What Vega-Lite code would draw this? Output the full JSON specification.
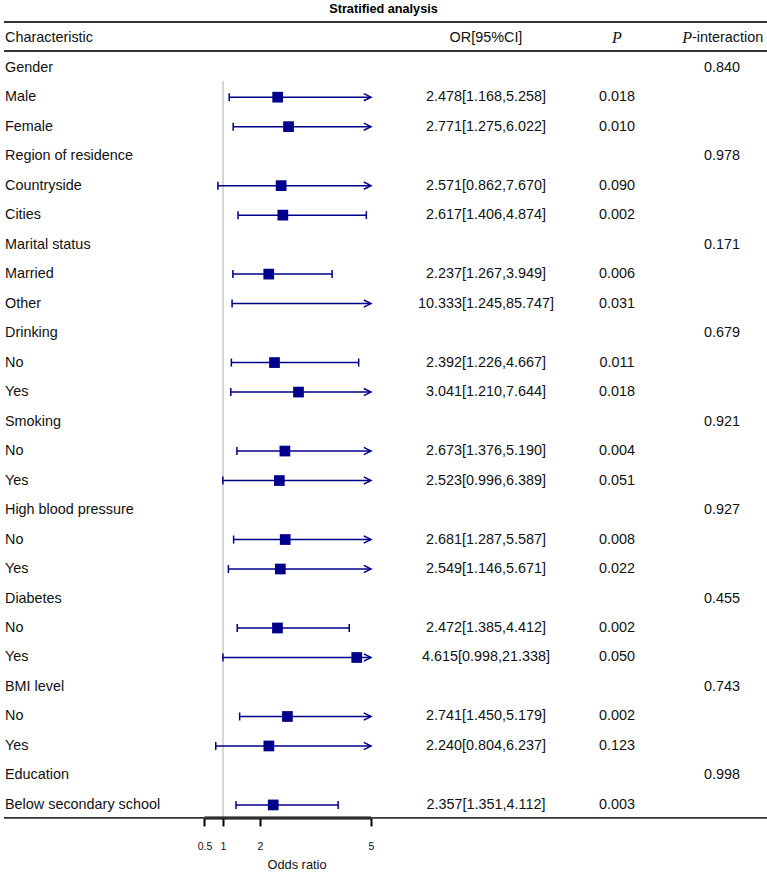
{
  "$schema": "https://vega.github.io/schema/vega-lite/v6.json",
  "width": 763,
  "height": 873,
  "autosize": {"type": "none"},
  "padding": {"left": 4, "right": 0, "top": 0, "bottom": 0},
  "background": "white",
  "config": {"view": {"stroke": null}, "font": "Liberation Sans"},
  "data": {"values": [
    {"row": 1, "label": "Gender", "pint": "0.840"},
    {"row": 2, "label": "Male", "or": 2.478, "lo": 1.168, "hi": 5.258, "ci": "2.478[1.168,5.258]", "p": "0.018"},
    {"row": 3, "label": "Female", "or": 2.771, "lo": 1.275, "hi": 6.022, "ci": "2.771[1.275,6.022]", "p": "0.010"},
    {"row": 4, "label": "Region of residence", "pint": "0.978"},
    {"row": 5, "label": "Countryside", "or": 2.571, "lo": 0.862, "hi": 7.670, "ci": "2.571[0.862,7.670]", "p": "0.090"},
    {"row": 6, "label": "Cities", "or": 2.617, "lo": 1.406, "hi": 4.874, "ci": "2.617[1.406,4.874]", "p": "0.002"},
    {"row": 7, "label": "Marital status", "pint": "0.171"},
    {"row": 8, "label": "Married", "or": 2.237, "lo": 1.267, "hi": 3.949, "ci": "2.237[1.267,3.949]", "p": "0.006"},
    {"row": 9, "label": "Other", "or": 10.333, "lo": 1.245, "hi": 85.747, "ci": "10.333[1.245,85.747]", "p": "0.031"},
    {"row": 10, "label": "Drinking", "pint": "0.679"},
    {"row": 11, "label": "No", "or": 2.392, "lo": 1.226, "hi": 4.667, "ci": "2.392[1.226,4.667]", "p": "0.011"},
    {"row": 12, "label": "Yes", "or": 3.041, "lo": 1.210, "hi": 7.644, "ci": "3.041[1.210,7.644]", "p": "0.018"},
    {"row": 13, "label": "Smoking", "pint": "0.921"},
    {"row": 14, "label": "No", "or": 2.673, "lo": 1.376, "hi": 5.190, "ci": "2.673[1.376,5.190]", "p": "0.004"},
    {"row": 15, "label": "Yes", "or": 2.523, "lo": 0.996, "hi": 6.389, "ci": "2.523[0.996,6.389]", "p": "0.051"},
    {"row": 16, "label": "High blood pressure", "pint": "0.927"},
    {"row": 17, "label": "No", "or": 2.681, "lo": 1.287, "hi": 5.587, "ci": "2.681[1.287,5.587]", "p": "0.008"},
    {"row": 18, "label": "Yes", "or": 2.549, "lo": 1.146, "hi": 5.671, "ci": "2.549[1.146,5.671]", "p": "0.022"},
    {"row": 19, "label": "Diabetes", "pint": "0.455"},
    {"row": 20, "label": "No", "or": 2.472, "lo": 1.385, "hi": 4.412, "ci": "2.472[1.385,4.412]", "p": "0.002"},
    {"row": 21, "label": "Yes", "or": 4.615, "lo": 0.998, "hi": 21.338, "ci": "4.615[0.998,21.338]", "p": "0.050"},
    {"row": 22, "label": "BMI level", "pint": "0.743"},
    {"row": 23, "label": "No", "or": 2.741, "lo": 1.450, "hi": 5.179, "ci": "2.741[1.450,5.179]", "p": "0.002"},
    {"row": 24, "label": "Yes", "or": 2.240, "lo": 0.804, "hi": 6.237, "ci": "2.240[0.804,6.237]", "p": "0.123"},
    {"row": 25, "label": "Education", "pint": "0.998"},
    {"row": 26, "label": "Below secondary school", "or": 2.357, "lo": 1.351, "hi": 4.112, "ci": "2.357[1.351,4.112]", "p": "0.003"}
  ]},
  "layer": [
    {
      "layer": [
        {
          "data": {"values": [{"ref": 1}]},
          "mark": {"type": "rule", "color": "#c8c8c8", "strokeWidth": 1.5},
          "encoding": {"x": {"field": "ref", "type": "quantitative"}, "y": {"datum": 1.45, "type": "quantitative", "scale": {"domain": [-1.295, 28.308], "reverse": true, "nice": false, "zero": false}, "axis": null}, "y2": {"datum": 26.44}}
        },
        {
          "transform": [{"filter": "isValid(datum.or) && datum.hi <= 5"}],
          "mark": {"type": "rule", "color": "#00008B", "strokeWidth": 1.5},
          "encoding": {"x": {"field": "lo", "type": "quantitative"}, "x2": {"field": "hi"}, "y": {"field": "row", "type": "quantitative"}}
        },
        {
          "transform": [{"filter": "isValid(datum.or) && datum.hi > 5"}],
          "mark": {"type": "rule", "color": "#00008B", "strokeWidth": 1.5},
          "encoding": {"x": {"field": "lo", "type": "quantitative"}, "x2": {"datum": 5}, "y": {"field": "row", "type": "quantitative"}}
        },
        {
          "transform": [{"filter": "isValid(datum.or)"}],
          "mark": {"type": "point", "shape": "M 0 -1 L 0 1", "filled": false, "color": "#00008B", "strokeWidth": 1.5, "size": 64, "opacity": 1},
          "encoding": {"x": {"field": "lo", "type": "quantitative"}, "y": {"field": "row", "type": "quantitative"}}
        },
        {
          "transform": [{"filter": "isValid(datum.or) && datum.hi <= 5"}],
          "mark": {"type": "point", "shape": "M 0 -1 L 0 1", "filled": false, "color": "#00008B", "strokeWidth": 1.5, "size": 64, "opacity": 1},
          "encoding": {"x": {"field": "hi", "type": "quantitative"}, "y": {"field": "row", "type": "quantitative"}}
        },
        {
          "transform": [{"filter": "isValid(datum.or) && datum.hi > 5"}],
          "mark": {"type": "point", "shape": "M -1.8 -0.9 L 0 0 L -1.8 0.9", "filled": false, "color": "#00008B", "strokeWidth": 1.5, "size": 64, "opacity": 1},
          "encoding": {"x": {"datum": 5, "type": "quantitative"}, "y": {"field": "row", "type": "quantitative"}}
        },
        {
          "transform": [{"filter": "isValid(datum.or) && datum.or <= 5"}],
          "mark": {"type": "point", "shape": "square", "filled": true, "color": "#00008B", "size": 115, "opacity": 1},
          "encoding": {"x": {"field": "or", "type": "quantitative"}, "y": {"field": "row", "type": "quantitative"}}
        },
        {
          "data": {"values": [{"from": 0.5, "to": 5}]},
          "mark": {"type": "rule", "color": "#000", "strokeWidth": 3},
          "encoding": {"x": {"field": "from", "type": "quantitative"}, "x2": {"field": "to"}, "y": {"datum": 26.44, "type": "quantitative"}}
        },
        {
          "data": {"values": [{"t": "Odds ratio", "mid": 3}]},
          "mark": {"type": "text", "fontSize": 12.8, "color": "#111"},
          "encoding": {"x": {"field": "mid", "type": "quantitative"}, "y": {"datum": 28.04, "type": "quantitative"}, "text": {"field": "t"}}
        }
      ],
      "encoding": {
        "x": {
          "type": "quantitative",
          "scale": {"domain": [-4.919, 15.703], "nice": false, "zero": false},
          "axis": {"values": [0.5, 1, 2, 5], "format": "~g", "offset": -55, "domain": false, "grid": false, "tickSize": 8, "tickWidth": 2, "tickColor": "#000", "labelFontSize": 10.5, "labelColor": "#111", "labelPadding": 15, "labelFont": "Liberation Sans", "title": null}
        }
      }
    },
    {
      "layer": [
        {
          "data": {"values": [{"r": -0.549}, {"r": 0.434}, {"r": 26.44}]},
          "mark": {"type": "rule", "color": "#333", "strokeWidth": 1.8},
          "encoding": {"y": {"field": "r", "type": "quantitative"}}
        },
        {
          "data": {"values": [{"t": "Stratified analysis"}]},
          "mark": {"type": "text", "fontSize": 12.7, "fontWeight": "bold", "color": "#000"},
          "encoding": {"x": {"datum": 49.74, "type": "quantitative"}, "y": {"datum": -0.99, "type": "quantitative"}, "text": {"field": "t"}}
        },
        {
          "data": {"values": [{"t": "Characteristic"}]},
          "mark": {"type": "text", "fontSize": 14.4, "align": "left", "color": "#111"},
          "encoding": {"x": {"datum": 0.131, "type": "quantitative"}, "y": {"datum": 0, "type": "quantitative"}, "text": {"field": "t"}}
        },
        {
          "data": {"values": [{"t": "OR[95%CI]"}]},
          "mark": {"type": "text", "fontSize": 14.4, "align": "center", "color": "#111"},
          "encoding": {"x": {"datum": 63.17, "type": "quantitative"}, "y": {"datum": 0, "type": "quantitative"}, "text": {"field": "t"}}
        },
        {
          "data": {"values": [{"t": "P"}]},
          "mark": {"type": "text", "fontSize": 16, "font": "Liberation Serif", "fontStyle": "italic", "align": "center", "color": "#111"},
          "encoding": {"x": {"datum": 80.34, "type": "quantitative"}, "y": {"datum": 0, "type": "quantitative"}, "text": {"field": "t"}}
        },
        {
          "data": {"values": [{"t": "P"}]},
          "mark": {"type": "text", "fontSize": 16, "font": "Liberation Serif", "fontStyle": "italic", "align": "right", "color": "#111"},
          "encoding": {"x": {"datum": 90.17, "type": "quantitative"}, "y": {"datum": 0, "type": "quantitative"}, "text": {"field": "t"}}
        },
        {
          "data": {"values": [{"t": "-interaction"}]},
          "mark": {"type": "text", "fontSize": 14.4, "align": "left", "color": "#111"},
          "encoding": {"x": {"datum": 90.17, "type": "quantitative"}, "y": {"datum": 0, "type": "quantitative"}, "text": {"field": "t"}}
        },
        {
          "mark": {"type": "text", "fontSize": 14.4, "align": "left", "color": "#111"},
          "encoding": {"x": {"datum": 0.131, "type": "quantitative"}, "y": {"field": "row", "type": "quantitative"}, "text": {"field": "label"}}
        },
        {
          "transform": [{"filter": "isValid(datum.ci)"}],
          "mark": {"type": "text", "fontSize": 14.4, "align": "center", "color": "#111"},
          "encoding": {"x": {"datum": 63.17, "type": "quantitative"}, "y": {"field": "row", "type": "quantitative"}, "text": {"field": "ci"}}
        },
        {
          "transform": [{"filter": "isValid(datum.p)"}],
          "mark": {"type": "text", "fontSize": 14.4, "align": "center", "color": "#111"},
          "encoding": {"x": {"datum": 80.34, "type": "quantitative"}, "y": {"field": "row", "type": "quantitative"}, "text": {"field": "p"}}
        },
        {
          "transform": [{"filter": "isValid(datum.pint)"}],
          "mark": {"type": "text", "fontSize": 14.4, "align": "center", "color": "#111"},
          "encoding": {"x": {"datum": 94.1, "type": "quantitative"}, "y": {"field": "row", "type": "quantitative"}, "text": {"field": "pint"}}
        }
      ],
      "encoding": {
        "x": {"type": "quantitative", "scale": {"domain": [0, 100], "nice": false, "zero": false}, "axis": null}
      }
    }
  ],
  "resolve": {"scale": {"x": "independent"}, "axis": {"x": "independent"}}
}
